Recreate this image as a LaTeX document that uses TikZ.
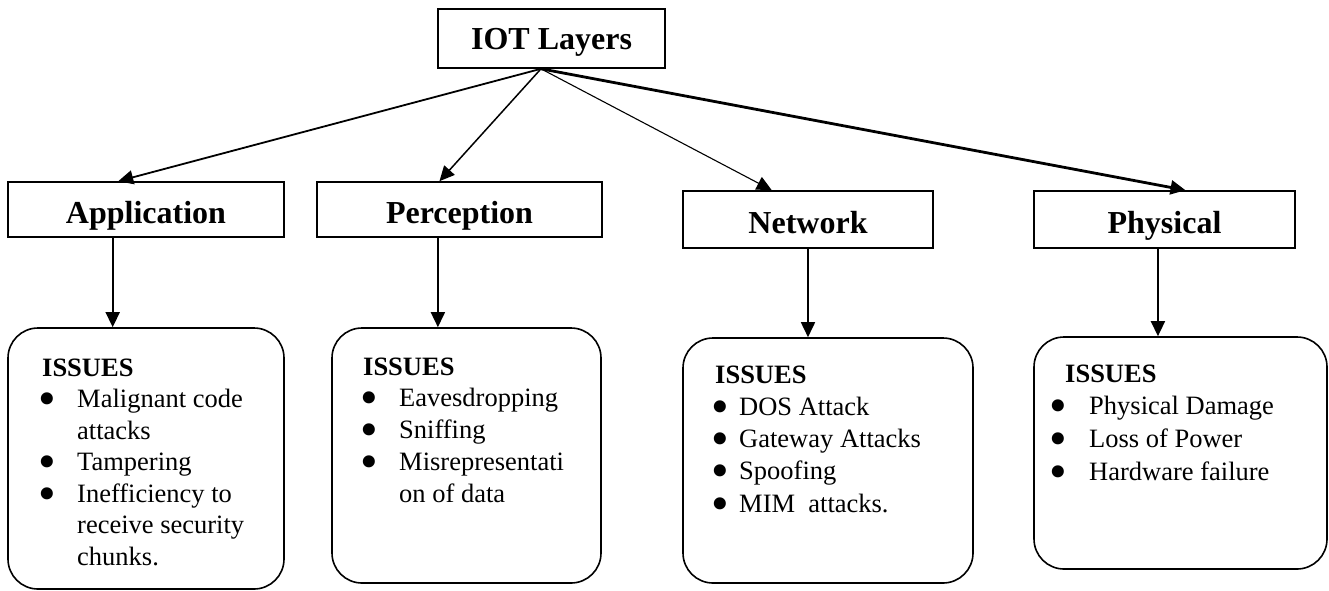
\documentclass[tikz,border=0pt]{standalone}
\usepackage{fontspec}
\setmainfont{Liberation Serif}
\usetikzlibrary{arrows.meta,calc}
\newcommand{\bigbul}{\kern-4.1pt\raisebox{-8.2pt}[0pt][0pt]{\scalebox{1.9}{•}}}
\newcommand{\bitem}[2]{\hbox{\makebox[#1][l]{\bigbul}#2}}
\newcommand{\contline}[2]{\hbox{\hspace*{#1}#2}}
\tikzset{
  layerbox/.style={draw, line width=1.6pt, inner sep=0pt, font=\fontsize{32}{36}\selectfont\bfseries},
  issuebox/.style={draw, line width=1.6pt, rounded corners=30pt, inner sep=0pt},
  issuetext/.style={anchor=base west, inner sep=0pt, font=\fontsize{26.5}{31.5}\selectfont},
  arr/.style={-{Triangle[length=15pt,width=14pt]}, line width=1.7pt},
}
\begin{document}
\begin{tikzpicture}[x=1pt,y=-1pt]
\useasboundingbox (0,0) rectangle (1329,590);
% layer boxes
\node[layerbox, minimum width=227pt, minimum height=59pt, text height=24pt, text depth=3pt] (iot) at (551.5,38.5) {IOT Layers};
\node[layerbox, minimum width=276pt, minimum height=55pt, text height=30pt, text depth=3pt] (app) at (146,209.5) {Application};
\node[layerbox, minimum width=285pt, minimum height=55pt, text height=30pt, text depth=3pt] (perc) at (459.5,209.5) {Perception};
\node[layerbox, minimum width=250pt, minimum height=57pt, text height=30pt, text depth=3pt] (net) at (808,219.5) {Network};
\node[layerbox, minimum width=261pt, minimum height=57pt, text height=30pt, text depth=3pt] (phys) at (1164.5,219.5) {Physical};
% issue boxes
\node[issuebox, minimum width=276pt, minimum height=261pt] (appI) at (146,458.5) {};
\node[issuebox, minimum width=269pt, minimum height=255pt] (percI) at (466.5,455.5) {};
\node[issuebox, minimum width=290pt, minimum height=245pt] (netI) at (828,460.5) {};
\node[issuebox, minimum width=293pt, minimum height=232pt] (physI) at (1180.5,453) {};
% issue texts
\node[issuetext] (appT) at (42,376) {\vtop{\baselineskip=31.5pt
  \hbox{\bfseries ISSUES}
  \bitem{35pt}{Malignant code}
  \contline{35pt}{attacks}
  \bitem{35pt}{Tampering}
  \bitem{35pt}{Inefficiency to}
  \contline{35pt}{receive security}
  \contline{35pt}{chunks.}}};
\node[issuetext] (percT) at (363,375) {\vtop{\baselineskip=31.75pt
  \hbox{\bfseries ISSUES}
  \hbox{\hspace*{1pt}\makebox[35pt][l]{\bigbul}Eavesdropping}
  \hbox{\hspace*{1pt}\makebox[35pt][l]{\bigbul}Sniffing}
  \hbox{\hspace*{1pt}\makebox[35pt][l]{\bigbul}Misrepresentati}
  \contline{36pt}{on of data}}};
\node[issuetext] (netT) at (715,383) {\vtop{\baselineskip=32.25pt
  \hbox{\bfseries ISSUES}
  \bitem{24pt}{DOS Attack}
  \bitem{24pt}{Gateway Attacks}
  \bitem{24pt}{Spoofing}
  \bitem{24pt}{MIM\ \ attacks.}}};
\node[issuetext] (physT) at (1053.5,382) {\vtop{\baselineskip=32.7pt
  \hbox{\hspace*{11.5pt}\bfseries ISSUES}
  \bitem{35.5pt}{Physical Damage}
  \bitem{35.5pt}{Loss of Power}
  \bitem{35.5pt}{Hardware failure}}};
% connectors from the top box
\coordinate (apex) at ($(iot.south west)!0.454!(iot.south east)$);
\draw[arr, line width=1.8pt] (apex) -- ($(app.north west)!0.40!(app.north east)$);
\draw[arr, line width=1.5pt] (apex) -- ($(perc.north west)!0.43!(perc.north east)$);
\draw[arr, line width=1.1pt] (apex) -- ($(net.north west)!0.356!(net.north east)$);
\draw[arr, line width=2.8pt] (apex) -- ($(phys.north west)!0.58!(phys.north east)$);
% vertical connectors
\coordinate (appS) at ($(app.south west)!0.38!(app.south east)$);
\coordinate (percS) at ($(perc.south west)!0.4246!(perc.south east)$);
\coordinate (physS) at ($(phys.south west)!0.475!(phys.south east)$);
\draw[arr] (appS) -- (appS |- appI.north);
\draw[arr] (percS) -- (percS |- percI.north);
\draw[arr] (net.south) -- (net.south |- netI.north);
\draw[arr] (physS) -- (physS |- physI.north);
\end{tikzpicture}
\end{document}
